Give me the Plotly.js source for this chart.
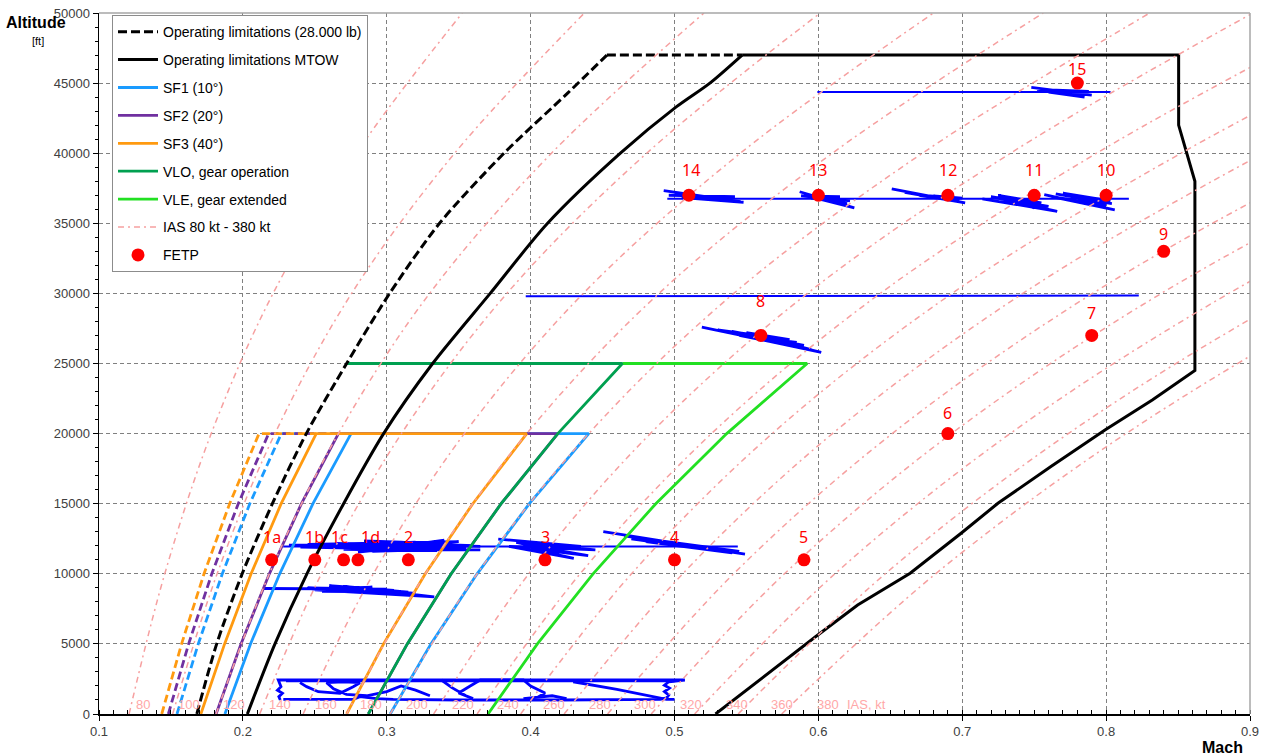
<!DOCTYPE html>
<html><head><meta charset="utf-8">
<script src="https://cdn.plot.ly/plotly-3.0.1.min.js"></script>
<style>html,body{margin:0;padding:0;background:#fff}#chart{width:1266px;height:756px}</style>
</head><body><div id="chart"></div>
<script>
// ---------- IAS reference lines (Mach at altitude) ----------
const iasKnots = [80,100,120,140,160,180,200,220,240,260,280,300,320,340,360,380];
const iasAltFt = [0,10000,20000,30000,40000,50000];
const ias080 = [0.1209,0.1457,0.1780,0.2210,0.2789,0.3525];
const ias100 = [0.1512,0.1821,0.2223,0.2756,0.3472,0.4374];
const ias120 = [0.1814,0.2184,0.2664,0.3298,0.4145,0.5205];
const ias140 = [0.2117,0.2546,0.3102,0.3835,0.4807,0.6013];
const ias160 = [0.2419,0.2907,0.3539,0.4366,0.5458,0.6800];
const ias180 = [0.2721,0.3268,0.3973,0.4892,0.6097,0.7563];
const ias200 = [0.3024,0.3628,0.4404,0.5412,0.6723,0.8303];
const ias220 = [0.3326,0.3987,0.4832,0.5924,0.7335,0.9020];
const ias240 = [0.3628,0.4344,0.5257,0.6430,0.7934,0.9714];
const ias260 = [0.3931,0.4701,0.5679,0.6929,0.8521,1.0386];
const ias280 = [0.4233,0.5057,0.6098,0.7421,0.9094,1.1037];
const ias300 = [0.4535,0.5411,0.6513,0.7906,0.9654,1.1669];
const ias320 = [0.4838,0.5764,0.6925,0.8384,1.0201,1.2281];
const ias340 = [0.5140,0.6115,0.7333,0.8854,1.0736,1.2875];
const ias360 = [0.5442,0.6465,0.7737,0.9317,1.1260,1.3452];
const ias380 = [0.5745,0.6815,0.8138,0.9774,1.1773,1.4014];

// ---------- Operating limitations ----------
const op28Mach = [0.1680,0.1818,0.1995,0.2205,0.2441,0.2721,0.3020,0.3367,0.3815,0.4259,0.4530,0.5470];
const op28Alt  = [0,5000,10000,15000,20000,25000,30000,35000,40000,44300,47000,47000];
const mtowMach = [0.2031,0.2223,0.2445,0.2700,0.2978,0.3319,0.3719,0.4118,0.4624,0.5012,0.5246,0.5470,0.8504,0.8504,0.8617,0.8617,0.8321,0.7992,0.7614,0.7248,0.6992,0.6638,0.6273,0.5980,0.5285];
const mtowAlt  = [0,5000,10000,15000,20000,25000,30000,35000,40000,43300,45000,47000,47000,42000,38000,24500,22400,20260,17640,15030,12890,10040,7775,5510,0];

// ---------- Flap / gear limits ----------
const sfAlt   = [0,5000,10000,15000,20000,20000,15000,10000,5000,0];
const sf1Mach = [0.1875,0.2053,0.2256,0.2487,0.2752,0.4404,0.3991,0.3628,0.3307,0.3024];
const sf2Mach = [0.1814,0.1987,0.2184,0.2407,0.2664,0.4189,0.3795,0.3448,0.3143,0.2872];
const sf3Mach = [0.1708,0.1873,0.2057,0.2266,0.2510,0.3973,0.3598,0.3268,0.2978,0.2721];
const sfLightAlt = [0,5000,10000,15000,20000,20000];
const sf1LightMach = [0.1542,0.1690,0.1857,0.2048,0.2267,0.2752];
const sf2LightMach = [0.1482,0.1623,0.1784,0.1968,0.2179,0.2664];
const sf3LightMach = [0.1436,0.1574,0.1730,0.1908,0.2112,0.2510];
const gearAlt  = [25000,25000,20000,15000,10000,5000,0];
const vloMach  = [0.2721,0.4638,0.4189,0.3795,0.3448,0.3143,0.2872];
const vleMach  = [0.4638,0.5922,0.5363,0.4870,0.4434,0.4047,0.3704];

// ---------- FETP points ----------
const fetpLabels = ['1a','1b','1c','1d','2','3','4','5','6','7','8','9','10','11','12','13','14','15'];
const fetpMach = [0.22,0.25,0.27,0.28,0.315,0.41,0.50,0.59,0.69,0.79,0.56,0.84,0.80,0.75,0.69,0.60,0.51,0.78];
const fetpAlt  = [11000,11000,11000,11000,11000,11000,11000,11000,20000,27000,27000,33000,37000,37000,37000,37000,37000,45000];

// ---------- Recorded flight data (blue traces) ----------
const fdLowAMach = [0.2260,0.2250,0.2275,0.2240,0.2265,0.2246,0.3500,0.4500,0.5072,0.4960,0.4930,0.4965,0.4930,0.4960,0.4945,0.4900,0.4600,0.4400,0.4203];
const fdLowAAlt  = [999,1236,1474,1700,1950,2425,2440,2430,2425,2300,2050,1850,1600,1350,1150,1050,1050,1046,1000];
const fdLowBMach = [0.2281,0.2767,0.2814,0.2930,0.3045,0.3323,0.3508,0.3740,0.4018,0.4203];
const fdLowBAlt  = [1046,1046,1236,1100,1046,999,1000,1000,999,1000];
const fdLowCMach = [0.2397,0.2443,0.2524,0.2675,0.2767,0.2814,0.2700,0.2582,0.2630,0.2720,0.2860,0.3000,0.3100,0.3200,0.3300];
const fdLowCAlt  = [2235,1950,1593,1474,1950,2235,2300,2235,1800,1400,1300,1600,2000,1700,1300];
const fdLowDMach = [0.3380,0.3450,0.3550,0.3600,0.3500,0.3580,0.3650,0.3950,0.4000,0.4100,0.4050,0.3950,0.4150,0.4250];
const fdLowDAlt  = [2425,1900,1300,1100,1500,2000,2425,2425,2000,1500,1200,1100,1300,1100];
const fdLowEMach = [0.4296,0.4600,0.4945,0.5000];
const fdLowEAlt  = [2300,1750,1050,1050];
const fdLowFMach = [0.2300,0.3800,0.5000];
const fdLowFAlt  = [2330,2320,2340];
const fd90Mach = [0.2145,0.3000,0.2450,0.3100,0.2500,0.3330,0.2700,0.3150,0.2550,0.2900,0.2480,0.3050,0.2600,0.3200];
const fd90Alt  = [8950,8900,9000,8750,8850,8350,9100,8700,8750,9050,8900,8820,9150,8600];
const fd120Mach = [0.2280,0.5440];
const fd120Alt  = [11950,11950];
const fd120bMach = [0.2320,0.3300,0.2500,0.3450,0.2650,0.3600,0.2850,0.3400,0.2400,0.3200,0.2900,0.3550,0.3000,0.3350,0.2700,0.3650,0.2450,0.3500,0.2800,0.3400];
const fd120bAlt  = [12050,12150,11950,11850,12150,12000,12300,11700,11900,12250,11600,11800,12200,11650,11750,11700,12100,12300,11550,12400];
const fd120eMach = [0.2842,0.3100,0.3390,0.3650];
const fd120eAlt  = [12350,12250,12050,11950];
const fd120cMach = [0.3775,0.4350,0.3950,0.4400,0.4000,0.4300,0.3850,0.4450,0.3900,0.4250];
const fd120cAlt  = [12480,11950,12100,11300,11800,11100,11950,11700,12250,11500];
const fd120dMach = [0.4505,0.5490,0.4650,0.5450,0.4700,0.5400,0.4800,0.5350];
const fd120dAlt  = [13000,11410,12700,11600,12500,11500,12300,11700];
const fd270Mach = [0.5190,0.6020,0.5400,0.5900,0.5300,0.5800,0.5500,0.5950,0.5450,0.5850];
const fd270Alt  = [27600,25800,27300,26300,27400,26700,27200,26000,27000,26500];
const fd300Mach = [0.3966,0.8227];
const fd300Alt  = [29800,29850];
const fd370Mach = [0.4950,0.8158];
const fd370Alt  = [36750,36750];
const fd370aMach = [0.4925,0.5460,0.5000,0.5400,0.5050,0.5480,0.5100,0.5420,0.4960];
const fd370aAlt  = [37330,36550,37100,36700,36900,36500,36800,36900,37000];
const fd370bMach = [0.5870,0.6250,0.5900,0.6200,0.5950,0.6150,0.5880,0.6220];
const fd370bAlt  = [37250,36100,37000,36400,36800,36900,36950,36600];
const fd370cMach = [0.6510,0.7020,0.6600,0.6950,0.6700,0.7000,0.6800,0.6980];
const fd370cAlt  = [37450,36450,37200,36600,37000,36800,36950,36600];
const fd370dMach = [0.7140,0.7660,0.7200,0.7600,0.7300,0.7550,0.7250,0.7500];
const fd370dAlt  = [36750,35850,36900,36200,36600,36450,37000,36100];
const fd370eMach = [0.7570,0.8060,0.7620,0.8000,0.7700,0.8030,0.7800,0.8040,0.7650];
const fd370eAlt  = [37050,35950,36900,36300,37150,36600,36800,36400,37100];
const fd440Mach = [0.5993,0.8031];
const fd440Alt  = [44370,44370];
const fd440bMach = [0.7480,0.7900,0.7550,0.7850,0.7600,0.7880,0.7520,0.7820];
const fd440bAlt  = [44700,44150,44500,44000,44350,44400,44550,44250];

// ================= build =================
const traces = [];
const fdSets = [[fdLowAMach,fdLowAAlt],[fdLowBMach,fdLowBAlt],[fdLowCMach,fdLowCAlt],[fdLowDMach,fdLowDAlt],[fdLowEMach,fdLowEAlt],[fdLowFMach,fdLowFAlt],
  [fd90Mach,fd90Alt],[fd120Mach,fd120Alt],[fd120bMach,fd120bAlt],[fd120eMach,fd120eAlt],
  [fd120cMach,fd120cAlt],[fd120dMach,fd120dAlt],[fd270Mach,fd270Alt],[fd300Mach,fd300Alt],[fd370Mach,fd370Alt],
  [fd370aMach,fd370aAlt],[fd370bMach,fd370bAlt],[fd370cMach,fd370cAlt],[fd370dMach,fd370dAlt],[fd370eMach,fd370eAlt],
  [fd440Mach,fd440Alt],[fd440bMach,fd440bAlt]];
fdSets.forEach(s => traces.push({x:s[0], y:s[1], mode:'lines', line:{color:'#0000ff', width:s[0].length > 3 ? 2.8 : 2}, showlegend:false, hoverinfo:'skip'}));

const C_SF1='#1a9bff', C_SF2='#7030a0', C_SF3='#ff9a10', C_VLO='#00a050', C_VLE='#22e022';
const dashLight = '8px,4px';
traces.push({x:sf1LightMach, y:sfLightAlt, mode:'lines', line:{color:C_SF1, width:2.8, dash:dashLight}, showlegend:false});
traces.push({x:sf2LightMach, y:sfLightAlt, mode:'lines', line:{color:C_SF2, width:2.8, dash:dashLight}, showlegend:false});
traces.push({x:sf3LightMach, y:sfLightAlt, mode:'lines', line:{color:C_SF3, width:2.8, dash:dashLight}, showlegend:false});
traces.push({x:sf1Mach, y:sfAlt, mode:'lines', name:'SF1 (10°)', line:{color:C_SF1, width:2.8}, legendrank:3, legendgroup:'g3'});
traces.push({x:sf2Mach, y:sfAlt, mode:'lines', name:'SF2 (20°)', line:{color:C_SF2, width:2.8}, legendrank:4, legendgroup:'g4'});
traces.push({x:sf3Mach, y:sfAlt, mode:'lines', name:'SF3 (40°)', line:{color:C_SF3, width:2.8}, legendrank:5, legendgroup:'g5'});
traces.push({x:vleMach, y:gearAlt, mode:'lines', name:'VLE, gear extended', line:{color:C_VLE, width:2.8}, legendrank:7, legendgroup:'g7'});
traces.push({x:vloMach, y:gearAlt, mode:'lines', name:'VLO, gear operation', line:{color:C_VLO, width:2.8}, legendrank:6, legendgroup:'g6'});
// black limits: curved part smoothed, straight part linear
traces.push({x:op28Mach.slice(0,11), y:op28Alt.slice(0,11), mode:'lines', name:'Operating limitations (28.000 lb)',
  line:{color:'#000', width:3, dash:'9px,4px', shape:'spline', smoothing:0.8}, legendrank:1, legendgroup:'g1'});
traces.push({x:op28Mach.slice(10), y:op28Alt.slice(10), mode:'lines', line:{color:'#000', width:3, dash:'9px,4px'}, showlegend:false, legendgroup:'g1'});
traces.push({x:mtowMach.slice(0,12), y:mtowAlt.slice(0,12), mode:'lines', name:'Operating limitations MTOW',
  line:{color:'#000', width:3, shape:'spline', smoothing:0.8}, legendrank:2, legendgroup:'g2'});
traces.push({x:mtowMach.slice(11), y:mtowAlt.slice(11), mode:'lines', line:{color:'#000', width:3}, showlegend:false, legendgroup:'g2'});

const iasSeries = [ias080,ias100,ias120,ias140,ias160,ias180,ias200,ias220,ias240,ias260,ias280,ias300,ias320,ias340,ias360,ias380];
iasSeries.forEach((m,i) => traces.push({
  x:m, y:iasAltFt.slice(0,m.length), mode:'lines', name:'IAS 80 kt - 380 kt',
  line:{color:'#f6a0a0', width:1.5, dash:'6px,4px,2px,4px', shape:'spline', smoothing:1},
  showlegend:i===0, legendrank:8, legendgroup:'g8', hoverinfo:'skip'
}));

traces.push({x:fetpMach, y:fetpAlt, mode:'markers', name:'FETP', marker:{color:'#ff0000', size:13}, legendrank:9, legendgroup:'g9'});

const labelShiftY = [23,23,23,23,23,23,23,23,21,22,34,17,25,25,25,25,25,14];
const labelShiftX = [0,0,-4,13,0,0,0,0,0,0,0,0,0,0,0,0,2,0];
const annotations = fetpLabels.map((t,i) => ({
  x:fetpMach[i], y:fetpAlt[i], text:t, showarrow:false, yshift:labelShiftY[i], xshift:labelShiftX[i], xanchor:'center', yanchor:'middle',
  font:{family:'Noto Sans, sans-serif', size:16, color:'#ff0000'}
}));
iasSeries.forEach((m,i) => annotations.push({
  x:m[0], y:650, text:String(iasKnots[i]), showarrow:false, xanchor:'center', yanchor:'middle',
  xshift:14 + 36*(m[0]-0.12)/0.455*0.9,
  font:{family:'Liberation Sans, Arial, sans-serif', size:13, color:'#ffa8a8'}
}));
annotations.push({x:ias380[0], y:650, text:'IAS, kt', showarrow:false, xanchor:'center', yanchor:'middle', xshift:85,
  font:{family:'Liberation Sans, Arial, sans-serif', size:13, color:'#ffa8a8'}});
annotations.push({xref:'paper', yref:'paper', x:-0.055, y:0.9865, text:'<b>Altitude</b>', showarrow:false, xanchor:'center', yanchor:'middle',
  font:{family:'Liberation Sans, Arial, sans-serif', size:16, color:'#000'}});
annotations.push({xref:'paper', yref:'paper', x:-0.053, y:0.9601, text:'[ft]', showarrow:false, xanchor:'center', yanchor:'middle',
  font:{family:'Liberation Sans, Arial, sans-serif', size:11, color:'#000'}});
annotations.push({xref:'paper', yref:'paper', x:0.9757, y:-0.0471, text:'<b>Mach</b>', showarrow:false, xanchor:'center', yanchor:'middle',
  font:{family:'Liberation Sans, Arial, sans-serif', size:16, color:'#000'}});

const layout = {
  width:1266, height:756,
  margin:{l:99, r:16, t:13, b:42, pad:0},
  paper_bgcolor:'#fff', plot_bgcolor:'#fff',
  font:{family:'Liberation Sans, Arial, sans-serif', size:13, color:'#404040'},
  showlegend:true,
  xaxis:{range:[0.1,0.9], tick0:0.1, dtick:0.1, tickformat:'.1f', showgrid:true, gridcolor:'#808080', gridwidth:1, griddash:'4px,3px',
    showline:true, linecolor:'#000', linewidth:1.5, ticks:'outside', ticklen:5, tickcolor:'#000', zeroline:false,
    minor:{dtick:0.01, ticks:'inside', ticklen:4, tickcolor:'#000', showgrid:false}},
  yaxis:{range:[0,50000], tick0:0, dtick:5000, tickformat:'d', showgrid:true, gridcolor:'#808080', gridwidth:1, griddash:'4px,3px',
    showline:true, linecolor:'#000', linewidth:1.5, ticks:'outside', ticklen:5, tickcolor:'#000', zeroline:false,
    minor:{dtick:1000, ticks:'outside', ticklen:3, tickcolor:'#000', showgrid:false}},
  legend:{x:0.0113, y:0.997, xanchor:'left', yanchor:'top', bgcolor:'#fff', bordercolor:'#8c8c8c', borderwidth:1,
    font:{family:'Liberation Sans, Arial, sans-serif', size:14, color:'#000'}, traceorder:'grouped', tracegroupgap:6.7, itemwidth:40},
  shapes:[
    {type:'line', xref:'paper', yref:'paper', x0:0, x1:1, y0:1, y1:1, line:{color:'#a6a6a6', width:1.5}},
    {type:'line', xref:'paper', yref:'paper', x0:1, x1:1, y0:0, y1:1, line:{color:'#a6a6a6', width:1.5}}
  ],
  annotations:annotations
};
Plotly.newPlot('chart', traces, layout, {displayModeBar:false, staticPlot:true});
</script></body></html>
